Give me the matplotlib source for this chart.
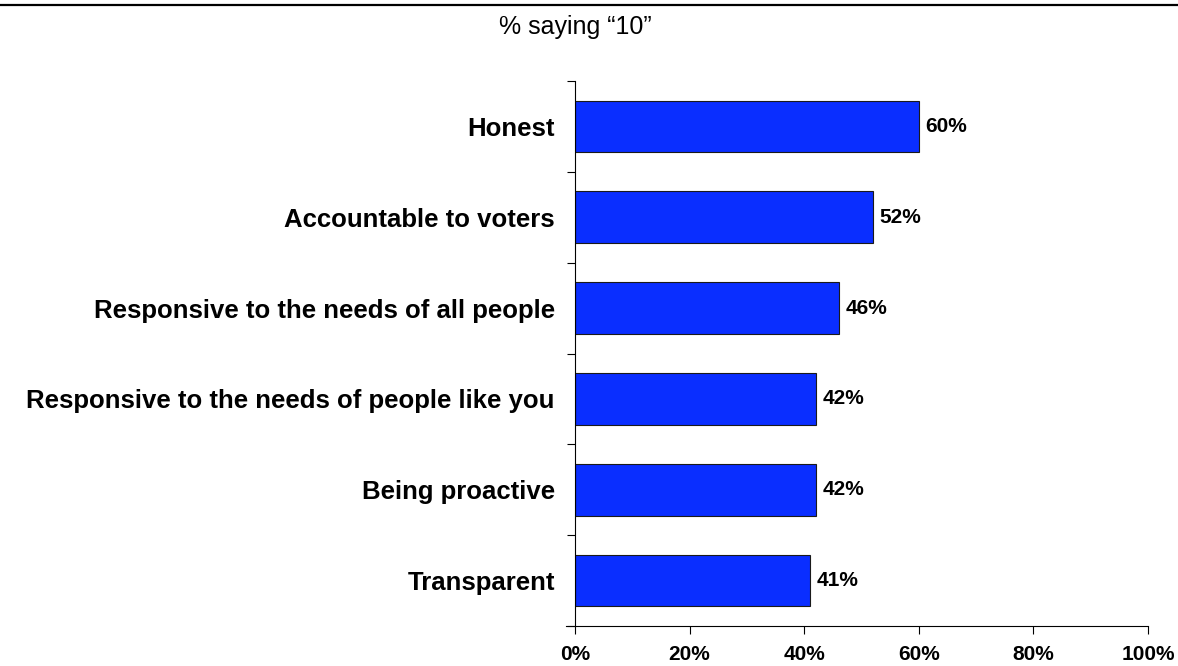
import numpy as np
import matplotlib.pyplot as plt
import matplotlib.ticker as ticker

plt.rcParams['font.family'] = ['Liberation Sans', 'DejaVu Sans']

# Data ==============
categories = ['Honest', 'Accountable to voters', 'Responsive to the needs of all people',
              'Responsive to the needs of people like you', 'Being proactive', 'Transparent']
values     = [60, 52, 46, 42, 42, 41]
xticks     = [0, 20, 40, 60, 80, 100]

fig = plt.figure(figsize=(11.78, 6.66), dpi=100)
ax  = fig.add_axes([575/1178, 1 - 626/666, (1148 - 575)/1178, (626 - 81)/666])

ypos = np.arange(len(categories))[::-1]
ax.barh(ypos, values, height=0.57, color='#0A2EFF', edgecolor='#1a1a1a', linewidth=0.8)
for y, v in zip(ypos, values):
    ax.text(v + 1.2, y, f'{v}%', va='center', ha='left', fontsize=15, fontweight='bold')

ax.set_xlim(0, 100)
ax.set_ylim(-0.5, len(categories) - 0.5)
ax.set_xticks(xticks)
ax.xaxis.set_major_formatter(ticker.FuncFormatter(lambda x, p: f'{int(x)}%'))
ax.set_yticks(ypos)
ax.set_yticklabels(categories)
ax.yaxis.set_minor_locator(ticker.FixedLocator(np.arange(-0.5, len(categories), 1)))
ax.tick_params(axis='y', which='major', length=0, pad=14.5, labelsize=18.5)
ax.tick_params(axis='y', which='minor', length=6, width=0.8)
ax.tick_params(axis='x', length=6, width=0.8, pad=8, labelsize=15)
for lab in ax.get_xticklabels() + ax.get_yticklabels():
    lab.set_fontweight('bold')

for side in ['top', 'right']:
    ax.spines[side].set_visible(False)
ax.spines['left'].set_linewidth(0.8)
ax.spines['bottom'].set_linewidth(0.8)
ax.spines['bottom'].set_bounds(-1.5, 100)

fig.text(575/1178, 1 - 34/666, '% saying \u201c10\u201d', ha='center', va='baseline', fontsize=18)
fig.add_artist(plt.Line2D([0, 1], [1 - 5/666, 1 - 5/666], color='black', linewidth=1.6))

fig.savefig('out.png', dpi=100)
